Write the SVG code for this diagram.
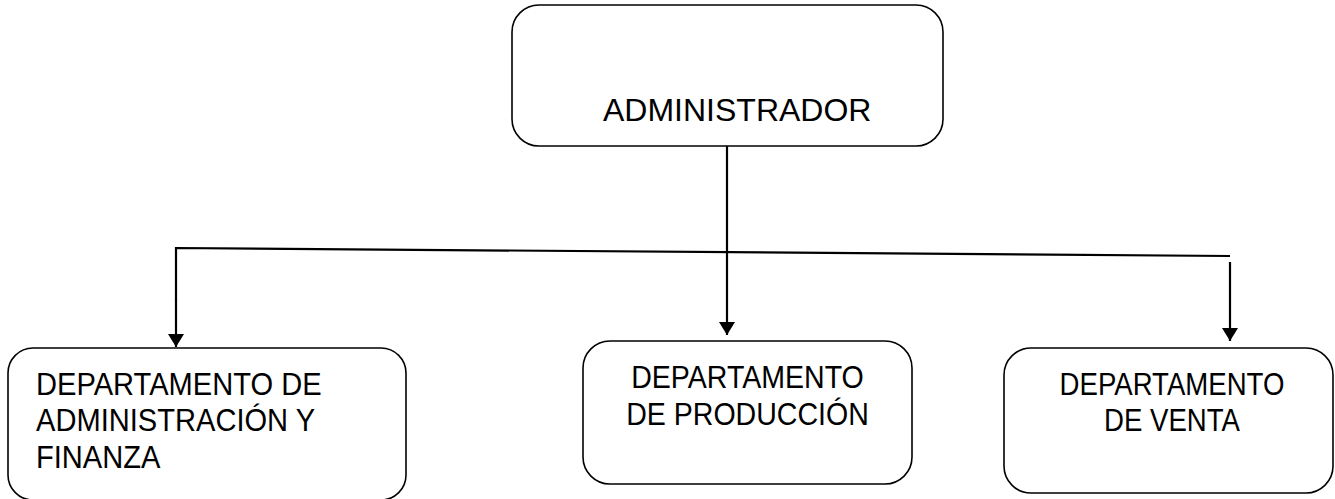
<svg xmlns="http://www.w3.org/2000/svg" width="1335" height="499" viewBox="0 0 1335 499">
<style>
.box{fill:#fff;stroke:#000;stroke-width:1.6}
.lbl{font-family:"Liberation Sans",Arial,sans-serif;font-size:30.5px;fill:#000}
.c{text-anchor:middle}
.conn{fill:none;stroke:#000;stroke-width:2.2}
</style>
<defs>
<marker id="arr" viewBox="0 0 13 16" refX="13" refY="8" markerWidth="13" markerHeight="16" markerUnits="userSpaceOnUse" orient="auto">
<path d="M0,0 L13,8 L0,16 z" fill="#000"/>
</marker>
</defs>
<rect width="1335" height="499" fill="#fff"/>
<g id="connectors">
<line class="conn" x1="727" y1="146" x2="727" y2="335" marker-end="url(#arr)"/>
<polyline class="conn" points="176,300 176,248 1230,256"/>
<line class="conn" x1="176" y1="299" x2="176" y2="347" marker-end="url(#arr)"/>
<line class="conn" x1="1230" y1="262" x2="1230" y2="341" marker-end="url(#arr)"/>
</g>
<g id="administrador">
<rect class="box" x="512" y="5" width="431" height="141" rx="27"/>
<text class="lbl" x="603" y="121" style="font-size:32px">ADMINISTRADOR</text>
</g>
<g id="dep-admin">
<rect class="box" x="8" y="348" width="398" height="152" rx="25"/>
<g transform="translate(36,0) scale(0.954,1)">
<text class="lbl" x="0" y="395">DEPARTAMENTO DE</text>
<text class="lbl" x="0" y="431.5">ADMINISTRACIÓN Y</text>
<text class="lbl" x="0" y="468">FINANZA</text>
</g>
</g>
<g id="dep-produccion">
<rect class="box" x="583" y="341" width="329" height="143" rx="27"/>
<g transform="translate(747.5,0) scale(0.936,1)">
<text class="lbl c" x="0" y="388">DEPARTAMENTO</text>
<text class="lbl c" x="0" y="425">DE PRODUCCIÓN</text>
</g>
</g>
<g id="dep-venta">
<rect class="box" x="1004" y="348" width="329" height="145" rx="27"/>
<g transform="translate(1172,0) scale(0.905,1)">
<text class="lbl c" x="0" y="395">DEPARTAMENTO</text>
<text class="lbl c" x="0" y="431.5">DE VENTA</text>
</g>
</g>
</svg>
